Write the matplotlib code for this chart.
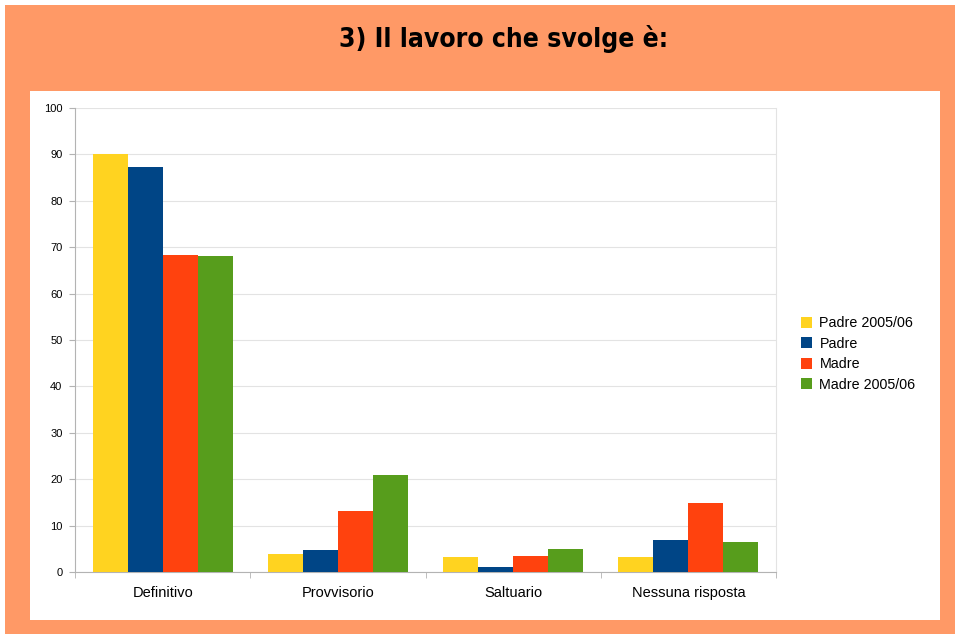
import numpy as np
import matplotlib.pyplot as plt
from matplotlib.patches import Rectangle

categories = ['Definitivo', 'Provvisorio', 'Saltuario', 'Nessuna risposta']
series_names = ['Padre 2005/06', 'Padre', 'Madre', 'Madre 2005/06']
padre_0506 = [90.0, 3.9, 3.2, 3.2]
padre = [87.3, 4.7, 1.1, 6.9]
madre = [68.3, 13.1, 3.4, 14.9]
madre_0506 = [68.1, 20.9, 5.0, 6.5]
colors = ['#FFD320', '#004586', '#FF420E', '#579D1C']

W, H = 960, 639
fig = plt.figure(figsize=(W / 100, H / 100), dpi=100)
fig.patch.set_facecolor('white')


def px(x0, y0, x1, y1):
    # pixel box (top-left origin) -> figure fraction [l, b, w, h]
    return [x0 / W, 1 - y1 / H, (x1 - x0) / W, (y1 - y0) / H]


l, b, w, h = px(5, 5, 955, 634)
fig.patches.append(Rectangle((l, b), w, h, transform=fig.transFigure,
                             facecolor='#FF9966', edgecolor='none', zorder=-2))
l, b, w, h = px(30, 91, 940, 620)
fig.patches.append(Rectangle((l, b), w, h, transform=fig.transFigure,
                             facecolor='white', edgecolor='none', zorder=-1))

fig.text(504 / W, 1 - 39 / H, '3) Il lavoro che svolge è:', ha='center', va='center',
         fontsize=19, fontweight='bold', family='DejaVu Sans', fontstretch='condensed')

ax = fig.add_axes(px(75, 108, 776, 572))
ax.set_zorder(1)
ax.set_facecolor('none')

x = np.arange(len(categories))
bw = 0.2
all_series = [padre_0506, padre, madre, madre_0506]
for i, (name, vals) in enumerate(zip(series_names, all_series)):
    ax.bar(x + (i - 1.5) * bw, vals, bw, color=colors[i], label=name, zorder=3,
           edgecolor='none')

ax.set_xlim(-0.5, len(categories) - 0.5)
ax.set_ylim(0, 100)
ax.set_yticks(range(0, 101, 10))
ax.yaxis.grid(True, color='#e3e3e3', linewidth=0.8, zorder=0)
ax.tick_params(axis='y', labelsize=8, length=4, color='#b3b3b3', pad=5,
               labelfontfamily='Liberation Sans')

ax.set_xticks(x)
ax.set_xticklabels(categories, fontsize=10.5, family='Liberation Sans')
ax.tick_params(axis='x', length=0, pad=10)
ax.set_xticks(np.arange(-0.5, len(categories), 1.0), minor=True)
ax.tick_params(axis='x', which='minor', length=4, color='#b3b3b3')

ax.spines['top'].set_visible(False)
for s in ['left', 'bottom', 'right']:
    ax.spines[s].set_color('#b3b3b3')
    ax.spines[s].set_linewidth(0.8)
ax.spines['right'].set_color('#e3e3e3')

ax.legend(loc='center left', bbox_to_anchor=(1.017, 0.47), frameon=False,
          prop={'family': 'Liberation Sans', 'size': 10.3},
          handlelength=0.8, handleheight=0.8, handletextpad=0.5, labelspacing=0.45)

fig.savefig('out.png', dpi=100)
